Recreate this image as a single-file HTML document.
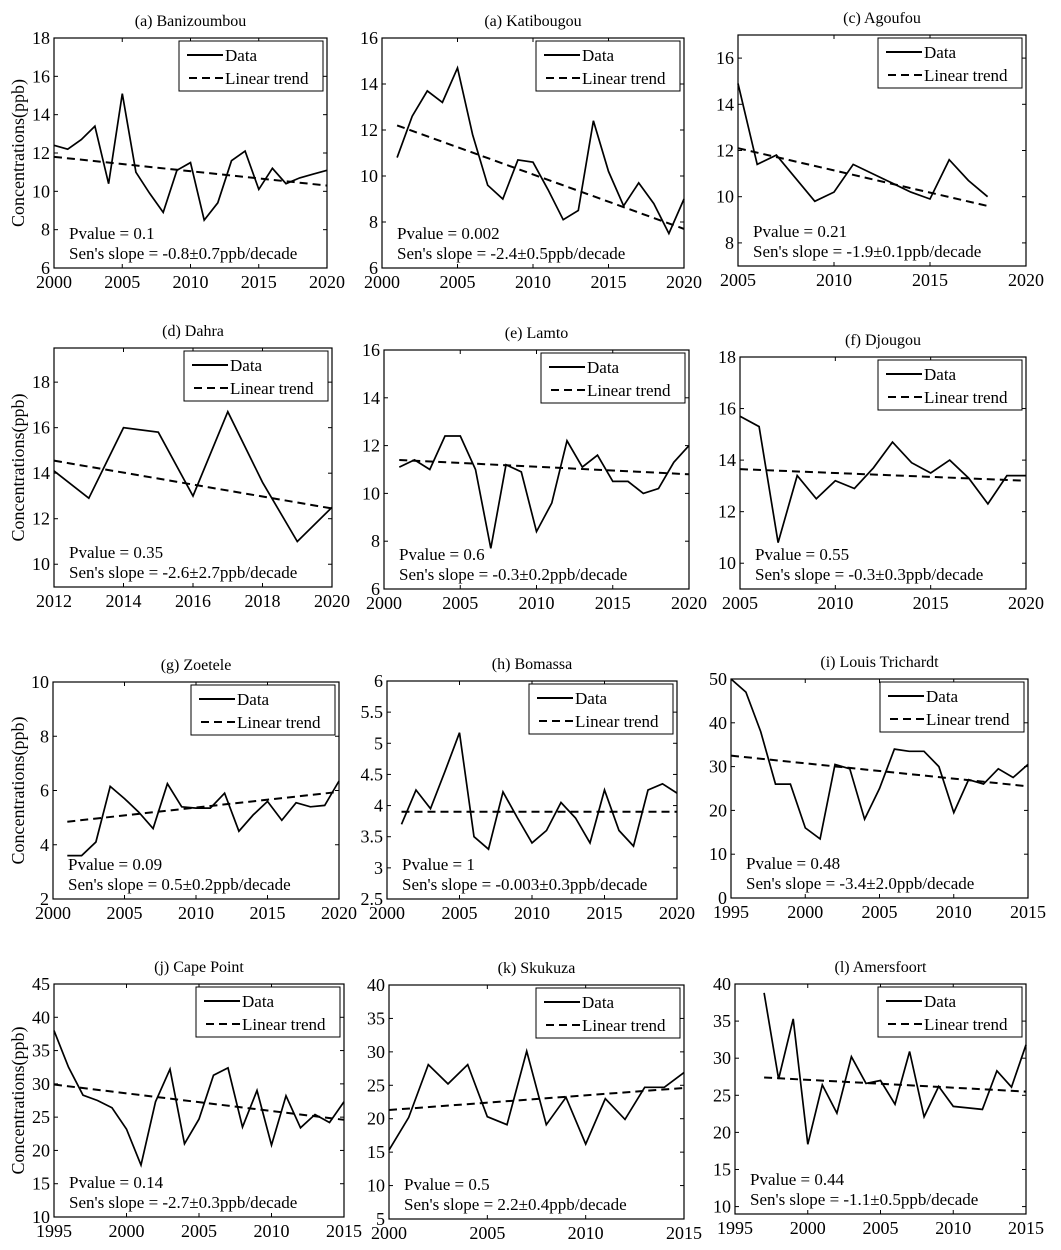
<!DOCTYPE html>
<html><head><meta charset="utf-8">
<style>
html,body{margin:0;padding:0;background:#fff;}
svg{display:block;}
svg text{font-family:"Liberation Serif","Times New Roman",serif;}
</style></head>
<body>
<svg id="fig" width="1061" height="1250" viewBox="0 0 1061 1250" xmlns="http://www.w3.org/2000/svg" font-family="Liberation Serif, serif">
</svg>
<script>
// ---- data arrays ----
const aYears = [2000,2001,2002,2003,2004,2005,2006,2007,2008,2009,2010,2011,2012,2013,2014,2015,2016,2017,2018,2019,2020];
const aValues = [12.4,12.2,12.7,13.4,10.4,15.1,11.0,9.9,8.9,11.1,11.5,8.5,9.4,11.6,12.1,10.1,11.2,10.4,10.7,10.9,11.1];
const aTrend = [11.8,10.3];
const bYears = [2001,2002,2003,2004,2005,2006,2007,2008,2009,2010,2011,2012,2013,2014,2015,2016,2017,2018,2019,2020];
const bValues = [10.8,12.6,13.7,13.2,14.7,11.8,9.6,9.0,10.7,10.6,9.4,8.1,8.5,12.4,10.2,8.7,9.7,8.8,7.5,9.0];
const bTrend = [12.2,7.7];
const cYears = [2005,2006,2007,2008,2009,2010,2011,2012,2013,2014,2015,2016,2017,2018];
const cValues = [14.9,11.4,11.8,10.8,9.8,10.2,11.4,11.0,10.6,10.2,9.9,11.6,10.7,10.0];
const cTrend = [12.1,9.6];
const dYears = [2012,2013,2014,2015,2016,2017,2018,2019,2020];
const dValues = [14.1,12.9,16.0,15.8,13.0,16.7,13.6,11.0,12.5];
const dTrend = [14.55,12.45];
const eYears = [2001,2002,2003,2004,2005,2006,2007,2008,2009,2010,2011,2012,2013,2014,2015,2016,2017,2018,2019,2020];
const eValues = [11.1,11.4,11.0,12.4,12.4,11.0,7.7,11.2,10.9,8.4,9.6,12.2,11.1,11.6,10.5,10.5,10.0,10.2,11.3,12.0];
const eTrend = [11.4,10.8];
const fYears = [2005,2006,2007,2008,2009,2010,2011,2012,2013,2014,2015,2016,2017,2018,2019,2020];
const fValues = [15.7,15.3,10.8,13.4,12.5,13.2,12.9,13.7,14.7,13.9,13.5,14.0,13.3,12.3,13.4,13.4];
const fTrend = [13.65,13.2];
const gYears = [2001,2002,2003,2004,2005,2006,2007,2008,2009,2010,2011,2012,2013,2014,2015,2016,2017,2018,2019,2020];
const gValues = [3.6,3.6,4.1,6.15,5.7,5.2,4.6,6.25,5.4,5.35,5.35,5.9,4.5,5.1,5.6,4.9,5.55,5.4,5.45,6.35];
const gTrend = [4.85,5.95];
const hYears = [2001,2002,2003,2004,2005,2006,2007,2008,2009,2010,2011,2012,2013,2014,2015,2016,2017,2018,2019,2020];
const hValues = [3.7,4.25,3.95,4.55,5.17,3.5,3.3,4.22,3.8,3.4,3.6,4.05,3.8,3.4,4.25,3.6,3.35,4.25,4.35,4.2];
const hTrend = [3.9,3.9];
const iYears = [1995,1996,1997,1998,1999,2000,2001,2002,2003,2004,2005,2006,2007,2008,2009,2010,2011,2012,2013,2014,2015];
const iValues = [50,47,38,26,26,16,13.5,30.5,29.5,18,25,34,33.5,33.5,30,19.5,27,26,29.5,27.5,30.5];
const iTrend = [32.5,25.5];
const jYears = [1995,1996,1997,1998,1999,2000,2001,2002,2003,2004,2005,2006,2007,2008,2009,2010,2011,2012,2013,2014,2015];
const jValues = [38,32.5,28.3,27.5,26.4,23.2,17.8,27.3,32.2,21,24.7,31.3,32.4,23.5,29,20.8,28.2,23.4,25.4,24.2,27.3];
const jTrend = [29.9,24.6];
const kYears = [2000,2001,2002,2003,2004,2005,2006,2007,2008,2009,2010,2011,2012,2013,2014,2015];
const kValues = [15.3,20.2,28.1,25.2,28.1,20.3,19.1,30.1,19.1,23.2,16.2,23,19.9,24.7,24.7,26.9];
const kTrend = [21.3,24.6];
const lYears = [1997,1998,1999,2000,2001,2002,2003,2004,2005,2006,2007,2008,2009,2010,2011,2012,2013,2014,2015];
const lValues = [38.8,27.2,35.3,18.4,26.4,22.6,30.2,26.6,27.0,23.8,30.9,22.1,26.2,23.5,23.3,23.1,28.3,26.1,31.8];
const lTrend = [27.4,25.5];

const aYTicks=[6,8,10,12,14,16,18], aXTicks=[2000,2005,2010,2015,2020];
const bYTicks=[6,8,10,12,14,16], bXTicks=[2000,2005,2010,2015,2020];
const cYTicks=[8,10,12,14,16], cXTicks=[2005,2010,2015,2020];
const dYTicks=[10,12,14,16,18], dXTicks=[2012,2014,2016,2018,2020];
const eYTicks=[6,8,10,12,14,16], eXTicks=[2000,2005,2010,2015,2020];
const fYTicks=[10,12,14,16,18], fXTicks=[2005,2010,2015,2020];
const gYTicks=[2,4,6,8,10], gXTicks=[2000,2005,2010,2015,2020];
const hYTicks=[2.5,3,3.5,4,4.5,5,5.5,6], hXTicks=[2000,2005,2010,2015,2020];
const iYTicks=[0,10,20,30,40,50], iXTicks=[1995,2000,2005,2010,2015];
const jYTicks=[10,15,20,25,30,35,40,45], jXTicks=[1995,2000,2005,2010,2015];
const kYTicks=[5,10,15,20,25,30,35,40], kXTicks=[2000,2005,2010,2015];
const lYTicks=[10,15,20,25,30,35,40], lXTicks=[1995,2000,2005,2010,2015];

const panels = [
 {id:'a',title:'(a) Banizoumbou',L:54,R:327,T:38,B:268,x0:2000,x1:2020,y0:6,y1:18,years:aYears,vals:aValues,trend:aTrend,yt:aYTicks,xt:aXTicks,p:'Pvalue = 0.1',s:"Sen's slope = -0.8±0.7ppb/decade",ylab:true},
 {id:'b',title:'(a) Katibougou',L:382,R:684,T:38,B:268,x0:2000,x1:2020,y0:6,y1:16,years:bYears,vals:bValues,trend:bTrend,yt:bYTicks,xt:bXTicks,p:'Pvalue = 0.002',s:"Sen's slope = -2.4±0.5ppb/decade"},
 {id:'c',title:'(c) Agoufou',L:738,R:1026,T:35,B:266,x0:2005,x1:2020,y0:7,y1:17,years:cYears,vals:cValues,trend:cTrend,yt:cYTicks,xt:cXTicks,p:'Pvalue = 0.21',s:"Sen's slope = -1.9±0.1ppb/decade"},
 {id:'d',title:'(d) Dahra',L:54,R:332,T:348,B:587,x0:2012,x1:2020,y0:9,y1:19.5,years:dYears,vals:dValues,trend:dTrend,yt:dYTicks,xt:dXTicks,p:'Pvalue = 0.35',s:"Sen's slope = -2.6±2.7ppb/decade",ylab:true},
 {id:'e',title:'(e) Lamto',L:384,R:689,T:350,B:589,x0:2000,x1:2020,y0:6,y1:16,years:eYears,vals:eValues,trend:eTrend,yt:eYTicks,xt:eXTicks,p:'Pvalue = 0.6',s:"Sen's slope = -0.3±0.2ppb/decade"},
 {id:'f',title:'(f) Djougou',L:740,R:1026,T:357,B:589,x0:2005,x1:2020,y0:9,y1:18,years:fYears,vals:fValues,trend:fTrend,yt:fYTicks,xt:fXTicks,p:'Pvalue = 0.55',s:"Sen's slope = -0.3±0.3ppb/decade"},
 {id:'g',title:'(g) Zoetele',L:53,R:339,T:682,B:899,x0:2000,x1:2020,y0:2,y1:10,years:gYears,vals:gValues,trend:gTrend,yt:gYTicks,xt:gXTicks,p:'Pvalue = 0.09',s:"Sen's slope = 0.5±0.2ppb/decade",ylab:true},
 {id:'h',title:'(h) Bomassa',L:387,R:677,T:681,B:899,x0:2000,x1:2020,y0:2.5,y1:6,years:hYears,vals:hValues,trend:hTrend,yt:hYTicks,xt:hXTicks,p:'Pvalue = 1',s:"Sen's slope = -0.003±0.3ppb/decade"},
 {id:'i',title:'(i) Louis Trichardt',L:731,R:1028,T:679,B:898,x0:1995,x1:2015,y0:0,y1:50,years:iYears,vals:iValues,trend:iTrend,yt:iYTicks,xt:iXTicks,p:'Pvalue = 0.48',s:"Sen's slope = -3.4±2.0ppb/decade"},
 {id:'j',title:'(j) Cape Point',L:54,R:344,T:984,B:1217,x0:1995,x1:2015,y0:10,y1:45,years:jYears,vals:jValues,trend:jTrend,yt:jYTicks,xt:jXTicks,p:'Pvalue = 0.14',s:"Sen's slope = -2.7±0.3ppb/decade",ylab:true},
 {id:'k',title:'(k) Skukuza',L:389,R:684,T:985,B:1219,x0:2000,x1:2015,y0:5,y1:40,years:kYears,vals:kValues,trend:kTrend,yt:kYTicks,xt:kXTicks,p:'Pvalue = 0.5',s:"Sen's slope = 2.2±0.4ppb/decade"},
 {id:'l',title:'(l) Amersfoort',L:735,R:1026,T:984,B:1214,x0:1995,x1:2015,y0:9,y1:40,years:lYears,vals:lValues,trend:lTrend,yt:lYTicks,xt:lXTicks,p:'Pvalue = 0.44',s:"Sen's slope = -1.1±0.5ppb/decade"}
];

const NS='http://www.w3.org/2000/svg';
const FF='Liberation Serif, Times New Roman, serif';
const svg=document.getElementById('fig');
function mk(tag,parent,attrs){const e=document.createElementNS(NS,tag);for(const k in attrs)e.setAttribute(k,attrs[k]);parent.appendChild(e);return e;}
function txt(parent,attrs){attrs['font-family']=FF;attrs['fill']='#000';return mk('text',parent,attrs);}

panels.forEach(P=>{
  const g=mk('g',svg,{});
  
  
  const sx=v=>P.L+(v-P.x0)/(P.x1-P.x0)*(P.R-P.L);
  const sy=v=>P.B-(v-P.y0)/(P.y1-P.y0)*(P.B-P.T);
  const t=txt(g,{x:(P.L+P.R)/2,y:P.T-12,'text-anchor':'middle','font-size':'16'});
  t.textContent=P.title;
  
  
  P.yt.forEach(v=>{
    const y=sy(v);
    mk('line',g,{x1:P.L,x2:P.L+4,y1:y,y2:y,stroke:'#000','stroke-width':1});
    mk('line',g,{x1:P.R,x2:P.R-4,y1:y,y2:y,stroke:'#000','stroke-width':1});
    const tl=txt(g,{x:P.L-4,y:y+6,'text-anchor':'end','font-size':'18'});
    tl.textContent=String(v);
    
    
  });
  P.xt.forEach(v=>{
    const x=sx(v);
    mk('line',g,{x1:x,x2:x,y1:P.B,y2:P.B-4,stroke:'#000','stroke-width':1});
    mk('line',g,{x1:x,x2:x,y1:P.T,y2:P.T+4,stroke:'#000','stroke-width':1});
    const tl=txt(g,{x:x,y:P.B+20,'text-anchor':'middle','font-size':'18'});
    tl.textContent=String(v);
    
    
  });
  const tr=mk('line',g,{x1:sx(P.years[0]),x2:sx(P.years[P.years.length-1]),y1:sy(P.trend[0]),y2:sy(P.trend[1]),stroke:'#000','stroke-width':2,'stroke-dasharray':'8,5'});
  
  
  const pts=P.years.map((yr,i)=>sx(yr).toFixed(1)+','+sy(P.vals[i]).toFixed(1)).join(' ');
  const dl=mk('polyline',g,{points:pts,fill:'none',stroke:'#000','stroke-width':1.7,'stroke-linejoin':'miter'});
  
  
  mk('rect',g,{x:P.L,y:P.T,width:P.R-P.L,height:P.B-P.T,fill:'none',stroke:'#000','stroke-width':1.2});
  const lx=P.R-148, ly=P.T+3;
  const lg=mk('g',g,{});
  
  
  mk('rect',lg,{x:lx,y:ly,width:144,height:50,fill:'#fff',stroke:'#000','stroke-width':1});
  mk('line',lg,{x1:lx+8,x2:lx+44,y1:ly+14,y2:ly+14,stroke:'#000','stroke-width':2});
  mk('line',lg,{x1:lx+10,x2:lx+44,y1:ly+37,y2:ly+37,stroke:'#000','stroke-width':2,'stroke-dasharray':'8,5'});
  const l1=txt(lg,{x:lx+46,y:ly+20,'font-size':'17'});l1.textContent='Data';
  
  
  const l2=txt(lg,{x:lx+46,y:ly+43,'font-size':'17'});l2.textContent='Linear trend';
  
  
  const a1=txt(g,{x:P.L+15,y:P.B-29,'font-size':'17'});a1.textContent=P.p;
  
  
  const a2=txt(g,{x:P.L+15,y:P.B-9,'font-size':'17'});a2.textContent=P.s;
  
  
  if(P.ylab){
    const cy=(P.T+P.B)/2;
    const yl=txt(g,{x:0,y:0,'text-anchor':'middle','font-size':'18',transform:'translate(24,'+cy+') rotate(-90)'});
    yl.textContent='Concentrations(ppb)';
    
    
  }
});
</script>
</body></html>
